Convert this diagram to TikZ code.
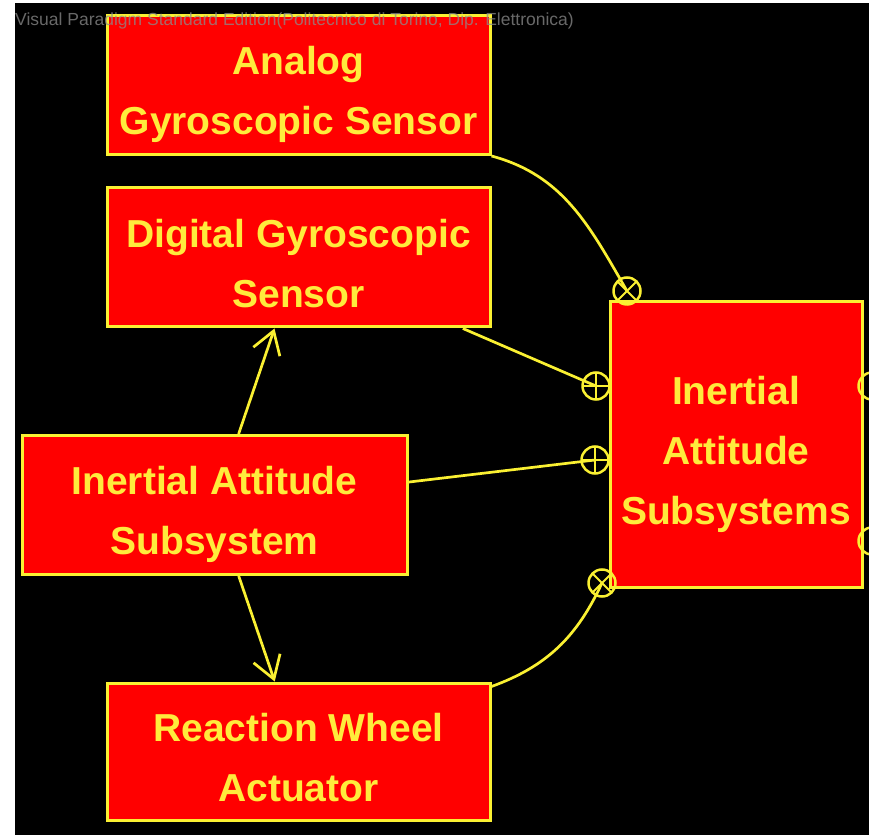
\documentclass[tikz,border=0pt]{standalone}
\usepackage{fontspec}
\setmainfont{Liberation Sans}
\usetikzlibrary{positioning,arrows.meta}
\definecolor{vpred}{RGB}{255,0,0}
\definecolor{vpyellow}{RGB}{250,240,50}
\definecolor{vptext}{RGB}{255,235,60}
\definecolor{vpgray}{RGB}{140,140,140}

\begin{document}
\begin{tikzpicture}[x=1pt, y=1pt, node distance=172.5pt]
\tikzstyle{block} = [rectangle, draw=vpyellow, line width=3pt, fill=vpred, text=vptext,
                     font=\fontsize{39}{60}\selectfont\bfseries, align=center,
                     text height=99.5pt, text depth=0pt,
                     minimum width=383pt, minimum height=139pt, inner sep=0pt]
\tikzstyle{joint} = [circle, draw=vpyellow, line width=2.5pt, minimum size=27pt, inner sep=0pt]
\tikzstyle{plusjoint} = [joint, path picture={\draw[vpyellow, line width=2pt]
    (path picture bounding box.north) -- (path picture bounding box.south)
    (path picture bounding box.west) -- (path picture bounding box.east);}]
\tikzstyle{crossjoint} = [joint, path picture={\draw[vpyellow, line width=2pt]
    (path picture bounding box.north west) -- (path picture bounding box.south east)
    (path picture bounding box.north east) -- (path picture bounding box.south west);}]
\tikzstyle{link} = [draw=vpyellow, line width=2.7pt]

% background
\clip (0,0) rectangle (869,835);
\fill[white] (0,0) rectangle (869,835);
\fill[black] (15,0) rectangle (869,832);

\node[block] (analog) at (298.5,750) {Analog\\Gyroscopic Sensor};
\node[block, below of=analog] (digital) {Digital Gyroscopic\\Sensor};
\node[block, below of=digital, node distance=247.5pt, xshift=-84pt, minimum width=385pt] (inertial) {Inertial Attitude\\Subsystem};
\node[block, below of=inertial, node distance=246.5pt, xshift=84pt, minimum height=137pt] (wheel) {Reaction Wheel\\Actuator};
\node[block, minimum width=252pt, minimum height=286pt, text height=159.5pt] (subsystems) at (736,390) {Inertial\\Attitude\\Subsystems};

% header, printed over the top box
\node[anchor=base west, text=vpgray, opacity=0.75, font=\fontsize{17.5}{20}\selectfont, inner sep=0pt] (header) at (15,809)
  {Visual Paradigm Standard Edition(Politecnico di Torino, Dip. Elettronica)};

% connectors
\draw[link] (analog.south east) to[out=-15, in=120] (627,544);
\draw[link] (digital) -- (596,449);
\draw[link] (inertial) -- (595,375);
\draw[link] ([yshift=-5pt]wheel.north east) to[out=20, in=-115] (602,252);
\draw[link, -{Straight Barb[length=22pt, width=28pt]}] (inertial) -- (digital);
\draw[link, -{Straight Barb[length=22pt, width=28pt]}] (inertial) -- (wheel);

% joints
\node[crossjoint] (gyrojoint) at (627,544) {};
\node[plusjoint] (digitaljoint) at (596,449) {};
\node[plusjoint] (inertialjoint) at (595,375) {};
\node[crossjoint] (wheeljoint) at (602,252) {};
\node[joint] (outjointa) at (872,449) {};
\node[joint] (outjointb) at (872,294) {};
\end{tikzpicture}
\end{document}
